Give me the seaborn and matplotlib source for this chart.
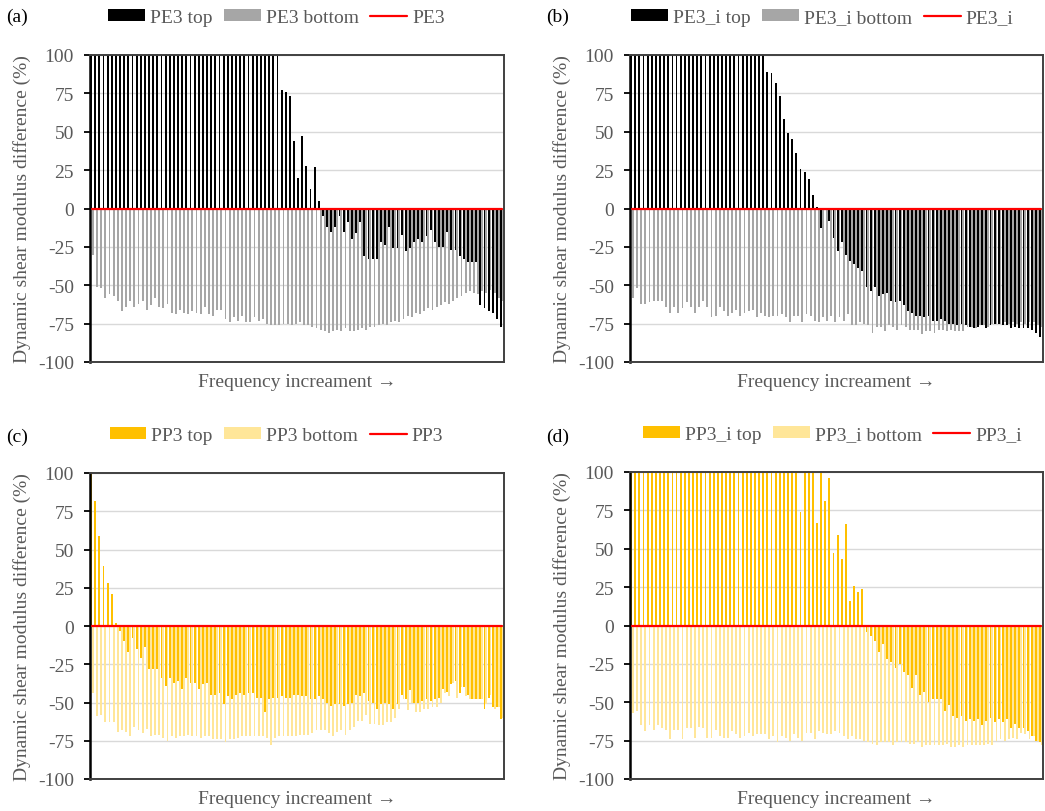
import numpy as np
import pandas as pd
import matplotlib
matplotlib.use("Agg")
import matplotlib.pyplot as plt
from matplotlib.patches import Patch
from matplotlib.lines import Line2D
import seaborn as sns

# ---------------- data ----------------
categories = list(range(100))

pe3_top = [100, 100, 100, 100, 100, 100, 100, 100, 100, 100,
           100, 100, 100, 100, 100, 100, 100, 100, 100, 100,
           100, 100, 100, 100, 100, 100, 100, 100, 100, 100,
           100, 100, 100, 100, 100, 100, 100, 100, 100, 100,
           100, 100, 100, 100, 100, 100, 77, 76, 73, 44,
           20, 47, 28, 13, 27, 5,
           -5, -12, -15, -12, -5, -15, -9, -20, -16, -9,
           -31, -33, -33, -33, -22, -24, -12, -26, -26, -17,
           -28, -26, -22, -20, -22, -18, -14, -22, -25, -25,
           -15, -27, -27, -31, -33, -35, -35, -35,
           -63, -65, -67, -68, -72, -77]
pe3_bottom = [-30, -51, -52, -58, -56, -57, -60, -67, -64, -60,
              -64, -62, -60, -66, -63, -58, -64, -65, -62, -68,
              -69, -66, -68, -69, -67, -68, -69, -64, -69, -70,
              -66, -66, -72, -74, -71, -73, -70, -74, -74, -71,
              -73, -72, -75, -76, -76, -76, -75,
              -75, -76, -75, -74, -76, -76, -77, -78, -79,
              -80, -81, -80, -79, -80, -78, -80, -80, -79, -78,
              -79, -77, -77, -76, -75, -76, -74, -73, -74, -72,
              -70, -71, -68, -69, -67, -65, -66, -64, -63, -61,
              -62, -60, -58, -57, -55, -54, -55, -56, -54, -55,
              -53, -55, -58, -60]
pe3_line = [0] * 100

pe3i_top = [100, 100, 100, 100, 100, 100, 100, 100, 100, 100,
            100, 100, 100, 100, 100, 100, 100, 100, 100, 100,
            100, 100, 100, 100, 100, 100, 100, 100, 100, 100,
            100, 100, 100, 89, 88, 82, 73, 58, 49, 45,
            36, 26, 24, 19, 9, 1, -13, -1, -8, -19,
            -28, -22, -30, -34, -36, -39, -41, -51, -54, -51,
            -57, -56, -55, -60, -61, -60, -63, -67, -68, -70,
            -70, -71, -70, -73, -73, -72, -73, -75, -75, -76,
            -75, -76, -77, -78, -77, -76, -78, -76, -75, -75,
            -76, -76, -78, -77, -78, -78, -78, -79, -81, -84]
pe3i_bottom = [-58, -52, -62, -62, -61, -60, -60, -60, -64, -68,
               -64, -68, -65, -61, -64, -68, -64, -60, -64, -71,
               -70, -64, -67, -70, -68, -66, -70, -68, -67, -66,
               -71, -68, -70, -71, -70, -70, -69, -71, -74, -70,
               -70, -74, -69, -70, -73, -74, -71, -73, -70, -74,
               -71, -73, -69, -76, -76, -74, -75, -76, -81, -77,
               -77, -80, -76, -77, -79, -76, -77, -79, -79, -79,
               -82, -80, -80, -81, -79, -79, -80, -79, -80, -80,
               -80, -77, -77, -78, -76, -76, -77, -75, -75, -75,
               -74, -75, -74, -75, -74, -75, -74, -74, -76, -77]
pe3i_line = [0] * 100

pp3_top = [100, 82, 59, 39, 28, 21, 2, -3, -10, -17,
           -8, -15, -21, -14, -28, -28, -28, -34, -39, -34,
           -37, -36, -41, -34, -37, -37, -41, -38, -37, -45,
           -45, -44, -51, -46, -48, -45, -44, -45, -44, -44,
           -47, -47, -56, -48, -47, -47, -46, -47, -47, -45,
           -45, -46, -46, -48, -48, -46, -48, -50, -52, -51,
           -51, -52, -51, -50, -45, -46, -44, -49, -50, -54,
           -51, -50, -51, -54, -51, -45, -48, -42, -50, -50,
           -49, -48, -49, -48, -47, -41, -43, -38, -36, -44,
           -40, -45, -48, -48, -48, -54, -47, -53, -53, -61]
pp3_bottom = [-44, -59, -58, -63, -63, -63, -69, -68, -69, -72,
              -66, -68, -70, -67, -72, -71, -71, -73, -75, -72,
              -73, -72, -72, -71, -72, -72, -73, -72, -72, -74,
              -74, -74, -76, -74, -74, -73, -72, -72, -72, -72,
              -72, -72, -73, -78, -73, -72, -72, -72, -72, -72,
              -71, -71, -71, -70, -68, -68, -68, -70, -72, -69,
              -68, -71, -68, -66, -62, -62, -58, -64, -64, -65,
              -65, -63, -63, -60, -54, -48, -55, -50, -56, -56,
              -54, -54, -53, -53, -50, -44, -46, -37, -47, -40,
              -46, -48, -48, -48, -48, -51, -45, -54, -53, -60]
pp3_line = [0] * 100

pp3i_top = [100, 100, 100, 100, 100, 100, 100, 100, 100, 100,
            100, 100, 100, 100, 100, 100, 100, 100, 100, 100,
            100, 100, 100, 100, 100, 100, 100, 100, 100, 100,
            100, 100, 100, 100, 100, 100, 100, 100, 100, 100,
            100, 74, 100, 100, 100, 67, 100, 81, 96, 47,
            59, 43, 66, 16, 26, 22, 24,
            -4, -7, -10, -17, -12, -22, -24, -28, -25, -30,
            -32, -41, -32, -45, -43, -50, -48, -48, -48, -56,
            -52, -59, -60, -59, -62, -61, -62, -61, -65, -62,
            -60, -63, -61, -63, -61, -67, -64, -67, -67, -69,
            -72, -75, -76]
pp3i_bottom = [-57, -56, -65, -69, -65, -68, -65, -67, -68, -74,
               -68, -68, -74, -67, -67, -73, -66, -67, -73, -73,
               -68, -72, -73, -73, -69, -71, -73, -72, -70, -72,
               -71, -71, -71, -74, -72, -76, -72, -73, -75, -71,
               -73, -75, -70, -70, -74, -69, -70, -71, -71, -69,
               -70, -72, -74, -72, -74, -74, -75, -76, -77, -78,
               -76, -76, -76, -78, -76, -76, -76, -77, -77, -76,
               -79, -78, -78, -78, -78, -78, -77, -79, -79, -78,
               -79, -78, -78, -78, -78, -78, -77, -78, -75, -74,
               -75, -74, -73, -74, -70, -71, -74, -72, -75, -78]
pp3i_line = [0] * 100

yticks = [-100, -75, -50, -25, 0, 25, 50, 75, 100]

# ---------------- style ----------------
sns.set_theme(style="white")
plt.rcParams["font.family"] = ["Liberation Serif", "DejaVu Serif"]
plt.rcParams["axes.unicode_minus"] = False

TXT = "#595959"
FS = 14

fig = plt.figure(figsize=(10.45, 8.12), dpi=100)

W, H = 1045, 812


def panel(rect_px, letter, letter_xy, top, bottom, line, names, colors, leg_x):
    l, t, r, b = rect_px
    ax = fig.add_axes([l / W, 1 - b / H, (r - l) / W, (b - t) / H])
    df = pd.DataFrame({
        "cat": categories * 2,
        "value": list(top) + list(bottom),
        "series": [names[0]] * len(top) + [names[1]] * len(bottom),
    })
    sns.barplot(data=df, x="cat", y="value", hue="series",
                hue_order=[names[0], names[1]], palette=[colors[0], colors[1]],
                width=0.9, saturation=1, linewidth=0, orient="x",
                legend=False, ax=ax, errorbar=None)
    for p in ax.patches:
        p.set_antialiased(False)
    sns.lineplot(x=categories, y=line, color="#FF0000", linewidth=1.6,
                 ax=ax, legend=False, zorder=5)
    ax.set_xlim(-0.5, len(categories) - 0.5)
    ax.set_ylim(-100, 100)
    ax.set_yticks(yticks)
    ax.set_yticklabels([str(v) for v in yticks])
    ax.set_xticks([])
    ax.yaxis.grid(True, color="#D9D9D9", linewidth=1.0)
    ax.set_axisbelow(True)
    for side in ["top", "right", "bottom"]:
        ax.spines[side].set_color("#404040")
        ax.spines[side].set_linewidth(1.4)
    ax.spines["left"].set_color("black")
    ax.spines["left"].set_linewidth(1.8)
    ax.tick_params(axis="y", direction="out", length=4.5, width=1.3,
                   color="black", labelsize=FS, labelcolor=TXT, pad=7,
                   left=True)
    ax.set_ylabel("Dynamic shear modulus difference (%)", fontsize=FS, color=TXT)
    ax.yaxis.set_label_coords(-0.143, 0.5)
    ax.set_xlabel("Frequency increament \u2192", fontsize=FS, color=TXT, labelpad=8)
    handles = [Patch(facecolor=colors[0], edgecolor="none"),
               Patch(facecolor=colors[1], edgecolor="none"),
               Line2D([0], [0], color="#FF0000", linewidth=1.6)]
    ax.legend(handles, [names[0], names[1], names[2]], loc="center",
              bbox_to_anchor=(leg_x, 1.122), ncol=3, frameon=False,
              fontsize=FS, labelcolor=TXT, handlelength=1.9, handleheight=0.55,
              handletextpad=0.25, columnspacing=0.6, borderaxespad=0)
    fig.text(letter_xy[0] / W, 1 - letter_xy[1] / H, letter, fontsize=FS,
             color="black", va="center", ha="left")
    return ax


panel((90, 56, 504, 363), "(a)", (6, 17), pe3_top, pe3_bottom, pe3_line,
      ["PE3 top", "PE3 bottom", "PE3"], ["#000000", "#A6A6A6"], 0.45)
panel((630, 56, 1043, 363), "(b)", (546, 17), pe3i_top, pe3i_bottom, pe3i_line,
      ["PE3_i top", "PE3_i bottom", "PE3_i"], ["#000000", "#A6A6A6"], 0.465)
panel((90, 474, 504, 780), "(c)", (6, 437), pp3_top, pp3_bottom, pp3_line,
      ["PP3 top", "PP3 bottom", "PP3"], ["#FFC000", "#FFE699"], 0.45)
panel((630, 473, 1043, 780), "(d)", (546, 437), pp3i_top, pp3i_bottom, pp3i_line,
      ["PP3_i top", "PP3_i bottom", "PP3_i"], ["#FFC000", "#FFE699"], 0.49)

fig.savefig("out.png", dpi=100)
